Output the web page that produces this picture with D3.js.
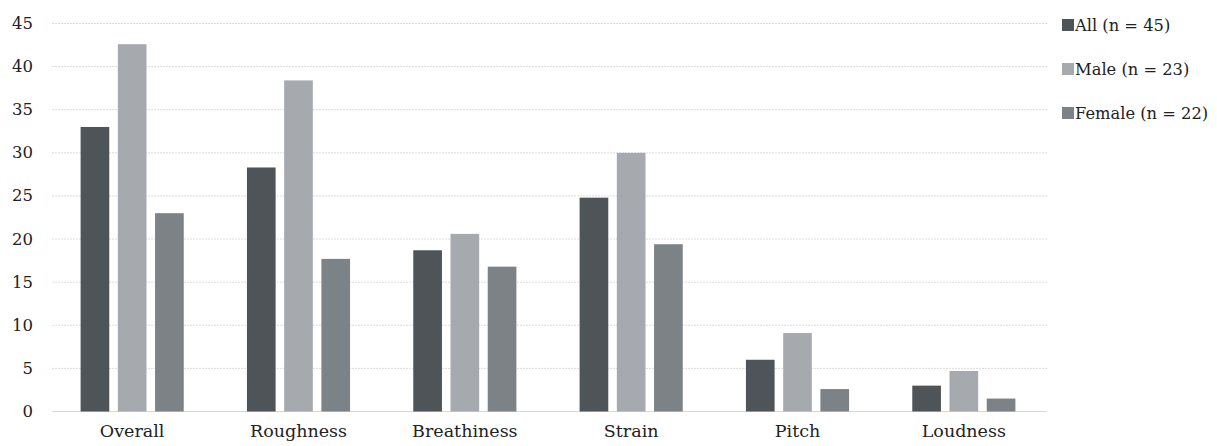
<!DOCTYPE html>
<html><head><meta charset="utf-8">
<script src="https://cdn.jsdelivr.net/npm/d3@7"></script>
<style>body{margin:0;background:#fff}svg{display:block}</style>
</head><body>
<svg id="c" width="1217" height="446"></svg>
<script>
const categories = ["Overall","Roughness","Breathiness","Strain","Pitch","Loudness"];
const seriesNames = ["All (n = 45)","Male (n = 23)","Female (n = 22)"];
const allValues = [33.0, 28.3, 18.7, 24.8, 6.0, 3.0];
const maleValues = [42.6, 38.4, 20.6, 30.0, 9.1, 4.7];
const femaleValues = [23.0, 17.7, 16.8, 19.4, 2.6, 1.5];
const yTicks = [0,5,10,15,20,25,30,35,40,45];
const colors = ["#4e5457","#a6aaaf","#7d8286"];
const series = [allValues, maleValues, femaleValues];

const svg = d3.select("#c");
const font = "'DejaVu Serif', serif";
const pLeft = 49, pRight = 1047, pTop = 23.5, pBottom = 411.5;

const x = d3.scaleBand().domain(categories).range([pLeft, pRight]).padding(0);
const xs = d3.scaleBand().domain([0,1,2]).range([0, 0.62*x.bandwidth()]).paddingInner(0.23);
const y = d3.scaleLinear().domain([0,45]).range([pBottom, pTop]);

// gridlines
svg.append("g").selectAll("line").data(yTicks.filter(d=>d>0)).join("line")
  .attr("x1", 52).attr("x2", pRight).attr("y1", d=>y(d)).attr("y2", d=>y(d))
  .attr("stroke", "#dcdcdc").attr("stroke-width", 1).attr("stroke-dasharray","2,1");
svg.append("line").attr("x1",52).attr("x2",pRight).attr("y1",y(0)).attr("y2",y(0))
  .attr("stroke","#d6d6d6").attr("stroke-width",1);

// y axis
const yAxis = d3.axisLeft(y).tickValues(yTicks).tickSize(0).tickPadding(0);
const yg = svg.append("g").attr("transform","translate(33,0)").call(yAxis);
yg.select(".domain").remove();
yg.selectAll("text").attr("font-family",font).attr("font-size",16.5).attr("fill","#222").attr("dy","0.3em");

// x axis
const xAxis = d3.axisBottom(x).tickSize(0).tickPadding(0);
const xg = svg.append("g").attr("transform",`translate(0,${pBottom+12})`).call(xAxis);
xg.select(".domain").remove();
xg.selectAll("text").attr("font-family",font).attr("font-size",17.5).attr("fill","#222").attr("dy","0.75em");

// bars
const off = (x.bandwidth() - xs.range()[1]) / 2;
series.forEach((vals, si) => {
  svg.append("g").selectAll("rect").data(vals).join("rect")
    .attr("x", (d,i)=> x(categories[i]) + off + xs(si))
    .attr("width", xs.bandwidth())
    .attr("y", d=>y(d))
    .attr("height", d=> y(0)-y(d))
    .attr("fill", colors[si]);
});

// legend
const lg = svg.append("g");
seriesNames.forEach((n,i)=>{
  const cy = 25 + i*44;
  lg.append("rect").attr("x",1062).attr("y",cy-6).attr("width",12).attr("height",12).attr("fill",colors[i]);
  lg.append("text").attr("x",1075).attr("y",cy).attr("dy","0.35em")
    .attr("font-family",font).attr("font-size",16.3).attr("fill","#222").text(n);
});
</script>
</body></html>
